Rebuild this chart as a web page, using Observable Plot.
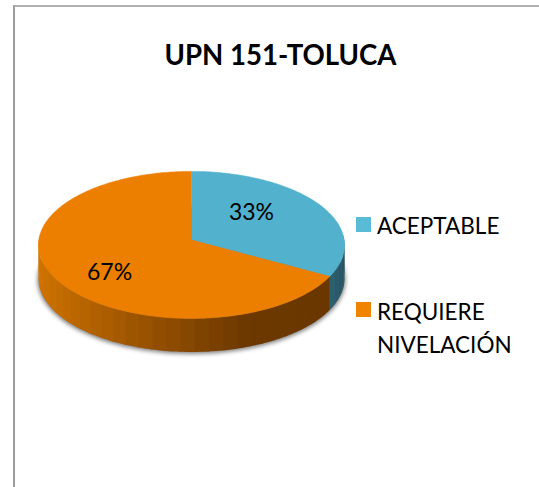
<!DOCTYPE html>
<html lang="es">
<head>
<meta charset="utf-8">
<script src="https://cdn.jsdelivr.net/npm/d3@7"></script>
<script src="https://cdn.jsdelivr.net/npm/@observablehq/plot@0.6"></script>
<style>
  html, body { margin: 0; padding: 0; background: #fff; overflow: hidden; }
  #chart { position: relative; width: 539px; height: 487px; font-family: Lato, "Open Sans", sans-serif; color: #000; }
  #frame { position: absolute; left: 13px; top: 5px; right: -5px; bottom: -5px; border-left: 2px solid #9c9c9c; border-top: 2px solid #b0b0b0; }
  #title { position: absolute; left: 15px; width: 531px; top: 37px; text-align: center; font-weight: 700; font-size: 27.6px; line-height: 36px; white-space: nowrap; }
  .swatch { position: absolute; left: 356px; width: 15px; height: 15px; }
  .entry { position: absolute; left: 377px; font-size: 22.5px; line-height: 33px; white-space: pre; }
  svg { position: absolute; left: 0; top: 0; }
  [aria-description="pie shadow"] { filter: blur(2px); }
</style>
</head>
<body>
<div id="chart"></div>
<script>
// Data
const categories = ["ACEPTABLE", "REQUIERE NIVELACIÓN"];
const shares = [33, 67];
const chartTitle = "UPN 151-TOLUCA";

// Styles
const topColors = ["#52b2cd", "#ec7f00"];
const legendColors = ["#5abbd6", "#f08300"];
const sideColors = [["#2f6475", "#24505f"], ["#d07400", "#9c5400", "#6c3800", "#6a3700"]];
const legendLines = [["ACEPTABLE"], ["REQUIERE", "NIVELACIÓN"]];

// Layout of the tilted pie
const width = 539, height = 487;
const cx = 191, cy = 239.5, rx = 152.7, ry = 73.2;
const k = 0.0667, depth = 0.458;            // perspective, thickness
const labelAngle = [46, 230], labelRadius = [0.56, 0.68];

const rad = Math.PI / 180;
// Circle angle (clockwise from the top) to tilted-plane coordinates
const project = (deg, r = 1, drop = 0) => {
  const u = r * Math.sin(deg * rad), v = -r * Math.cos(deg * rad), w = 1 - k * v;
  return { x: u / w, y: v / w + drop };
};
const total = d3.sum(shares);
const cumulative = d3.cumsum(shares);
const starts = shares.map((_, i) => (i ? cumulative[i - 1] : 0) / total * 360);
const ends = cumulative.map(c => c / total * 360);

// Top faces
const faces = categories.flatMap((category, i) => {
  const pts = [{ category, x: 0, y: 0 }];
  for (let a = starts[i]; a < ends[i]; a += 1) pts.push({ category, ...project(a) });
  pts.push({ category, ...project(ends[i]) });
  return pts;
});

// Visible outer wall, split into shaded strips
const edge = Math.acos(k) / rad;
const strips = [];
categories.forEach((category, i) => {
  const from = Math.max(starts[i], edge), to = Math.min(ends[i], 360 - edge);
  const shade = d3.scaleLinear().domain(d3.quantize(d3.interpolate(-1, 1), sideColors[i].length)).range(sideColors[i]).clamp(true);
  const shadeBlue = d3.scaleLinear().domain([0.85, 1]).range(sideColors[i]).clamp(true);
  const n = Math.max(1, Math.round((to - from) / 5));
  for (let s = 0; s < n; s++) {
    const a0 = from + (to - from) * s / n, a1 = from + (to - from) * (s + 1) / n;
    const a1x = Math.min(a1 + 0.6, to);
    const mid = Math.sin((a0 + a1) / 2 * rad);
    const fillColor = i === 0 ? shadeBlue(mid) : shade(mid);
    const id = `${i}-${s}`;
    const pts = [];
    for (let t = 0; t <= 4; t++) pts.push(project(a0 + (a1x - a0) * t / 4));
    for (let t = 4; t >= 0; t--) pts.push(project(a0 + (a1x - a0) * t / 4, 1, depth));
    pts.forEach(p => strips.push({ ...p, id, fillColor }));
  }
});

// Soft shadow under the pie
const shadow = d3.range(0, 361, 3).map(a => project(a, 1.006, depth + 0.02));

// Percent labels
const labels = shares.map((v, i) => ({ text: `${v}%`, ...project(labelAngle[i], labelRadius[i]) }));

const plot = Plot.plot({
  width, height,
  margin: 0,
  style: { background: "transparent", overflow: "visible" },
  x: { domain: [-cx / rx, (width - cx) / rx], range: [0, width], axis: null },
  y: { domain: [-cy / ry, (height - cy) / ry], range: [0, height], axis: null },
  color: { domain: categories, range: topColors },
  marks: [
    Plot.line(shadow, { x: "x", y: "y", fill: "#555", fillOpacity: 0.75, stroke: "none", ariaDescription: "pie shadow" }),
    Plot.line(strips, { x: "x", y: "y", z: "id", fill: { value: "fillColor", scale: null }, stroke: "none" }),
    Plot.line(faces, { x: "x", y: "y", z: "category", fill: "category", stroke: "category", strokeWidth: 0.5 }),
    Plot.text(labels, { x: "x", y: "y", text: "text", fontSize: 23, fontFamily: "Lato, 'Open Sans', sans-serif", fill: "#000" })
  ]
});

const chart = document.getElementById("chart");
const add = (cls, text, style) => {
  const el = document.createElement("div");
  el.className = cls;
  if (text) el.textContent = text;
  Object.assign(el.style, style || {});
  chart.appendChild(el);
};
add("", "", {});
chart.lastChild.id = "frame";
chart.appendChild(plot);
add("", chartTitle, {});
chart.lastChild.id = "title";
const swatchTop = [217, 302], lineTop = [209, 295];
categories.forEach((c, i) => {
  add("swatch", "", { top: swatchTop[i] + "px", background: legendColors[i] });
  legendLines[i].forEach((line, j) => add("entry", line, { top: lineTop[i] + j * 33 + "px" }));
});
</script>
</body>
</html>
